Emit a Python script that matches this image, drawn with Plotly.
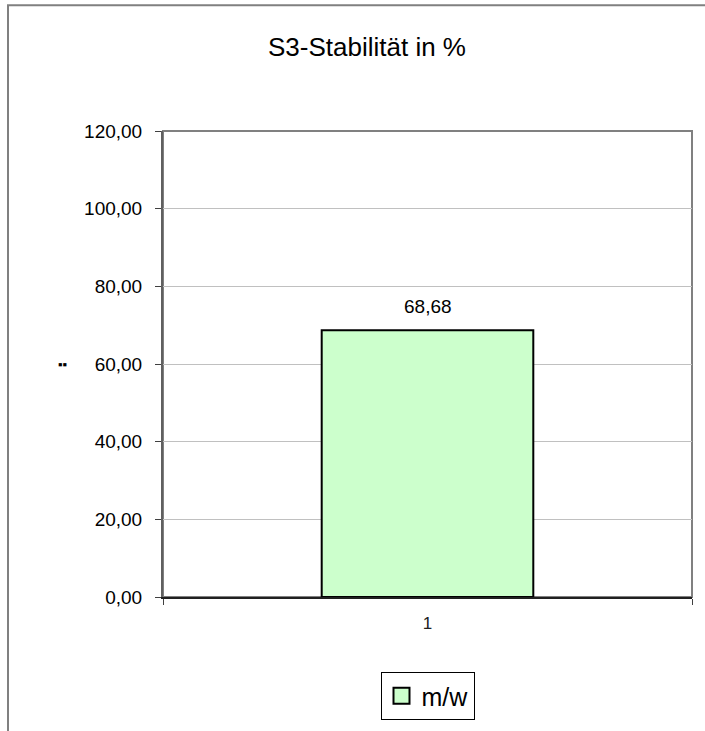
import plotly.graph_objects as go

categories = ["1"]
values = [68.68]
series_name = "m/w"
y_ticks = [0, 20, 40, 60, 80, 100, 120]
title_text = "S3-Stabilität in %"
y_title = "▪▪"

W, H = 705, 731
L, R, T, B = 163, 13, 131, 133
PW, PH = W - L - R, H - T - B

fig = go.Figure()
fig.add_trace(go.Bar(
    x=categories, y=values, name=series_name,
    marker=dict(color="#CCFFCC", line=dict(color="black", width=2)),
    width=0.4, showlegend=False,
))
# legend entry with a larger square symbol
fig.add_trace(go.Scatter(
    x=[None], y=[None], mode="markers", name=series_name,
    marker=dict(symbol="square", size=16, color="#CCFFCC",
                line=dict(color="black", width=2)),
    showlegend=True,
))

# data labels (category axis: position by category index)
for i, v in enumerate(values):
    fig.add_annotation(xref="x", yref="y", x=i, y=v,
                       text=f"{v:.2f}".replace(".", ","),
                       showarrow=False, yshift=24,
                       font=dict(size=19, color="black"))

fig.update_layout(
    width=W, height=H,
    margin=dict(l=L, r=R, t=T, b=B),
    paper_bgcolor="white", plot_bgcolor="white",
    separators=",.",
    font=dict(family="Liberation Sans, Arial", color="black", size=19),
    title=dict(text=title_text, x=367 / W, xanchor="center", xref="container",
               y=1 - 47 / H, yanchor="middle", yref="container",
               font=dict(size=26, color="black")),
    showlegend=True,
    legend=dict(orientation="h", x=0.5, xanchor="center",
                y=(598 - 672) / PH, yanchor="top",
                bordercolor="black", borderwidth=1, bgcolor="white",
                font=dict(size=25, color="black"),
                itemwidth=30),
    xaxis=dict(type="category", range=[-0.5, 0.5], showgrid=False,
               ticks="outside", tickson="boundaries", ticklen=6, tickcolor="#404040",
               showline=True, linecolor="#202020", linewidth=2,
               tickfont=dict(size=17, color="#202020"), ticklabelstandoff=10),
    yaxis=dict(range=[0, 120], tickvals=y_ticks, tickformat=".2f",
               showgrid=True, gridcolor="#C0C0C0", gridwidth=1,
               ticks="outside", ticklen=6, tickcolor="#404040",
               showline=True, linecolor="#606060", linewidth=2,
               zeroline=False, tickfont=dict(size=19), ticklabelstandoff=9),
)

# y axis title glyph
fig.add_annotation(xref="paper", yref="y", x=(56 - L) / PW, y=60, text=y_title,
                   showarrow=False, font=dict(size=13, color="black"))

# plot area frame (top & right grey)
fig.add_shape(type="rect", xref="paper", yref="paper", x0=0, x1=1, y0=0, y1=1,
              line=dict(color="#808080", width=2), layer="below")
# outer chart border
fig.add_shape(type="rect", xref="paper", yref="paper",
              x0=(8 - L) / PW, x1=1.2, y0=-0.5, y1=(598 - 5) / PH,
              line=dict(color="#808080", width=2), layer="below")

fig.write_html("out.html", config={"displayModeBar": False},
               post_script="document.body.style.margin='0';")
